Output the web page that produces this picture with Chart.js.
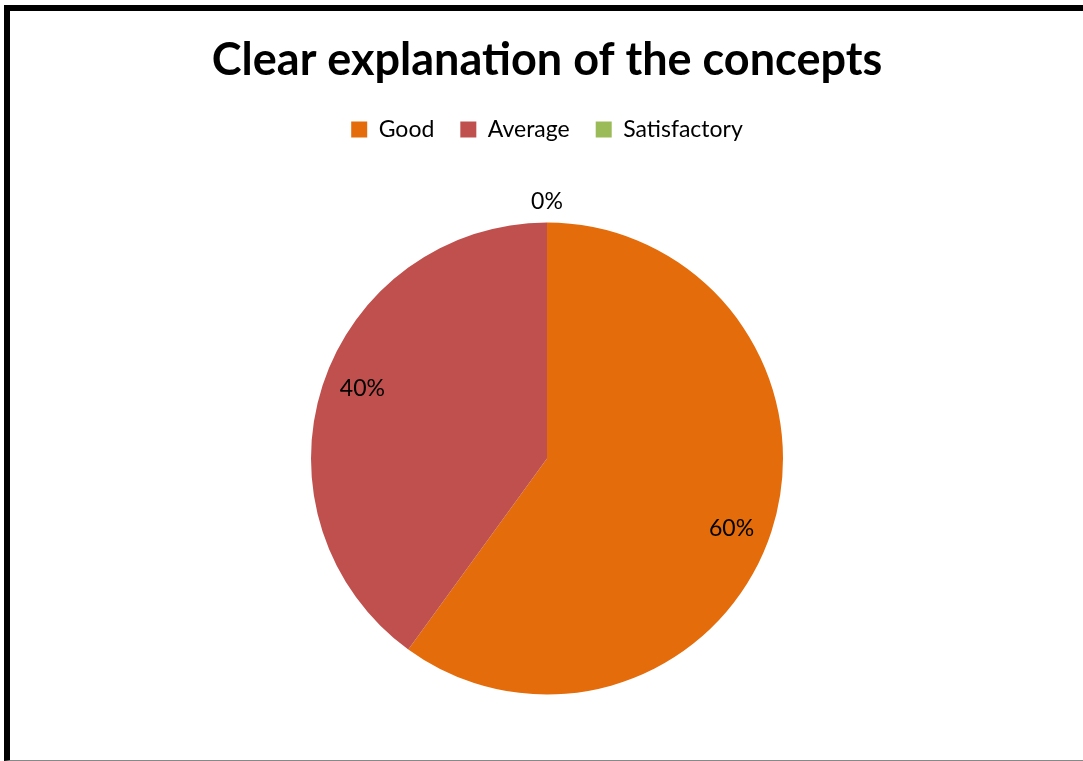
<!DOCTYPE html>
<html>
<head>
<meta charset="utf-8">
<script src="https://cdn.jsdelivr.net/npm/chart.js@4/dist/chart.umd.min.js"></script>
<style>
  html, body { margin: 0; padding: 0; background: #fff; }
  body { width: 1083px; height: 761px; position: relative; overflow: hidden; }
  #wrap { position: absolute; left: 0; top: 0; width: 1083px; height: 761px; }
  #frame {
    position: absolute; left: 4px; top: 5px; width: 1090px; height: 749px;
    border-left: 6px solid #000; border-top: 6px solid #000; border-bottom: 1px solid #888;
    pointer-events: none;
  }
</style>
</head>
<body>
<div id="wrap"><canvas id="pie" width="1083" height="761"></canvas></div>
<div id="frame"></div>
<script>
// ---------- Data ----------
const CATEGORIES = ['Good', 'Average', 'Satisfactory'];
const PERCENTS = [60, 40, 0];
const COLORS = ['#E46C0A', '#C0504D', '#9BBB59'];
const TITLE = 'Clear explanation of the concepts';

const FONT = "Lato, 'Liberation Sans', sans-serif";

// percent labels, Excel style (inside for real slices, outside for empty ones)
const pctLabels = {
    id: 'pctLabels',
    afterDatasetsDraw(chart) {
        const ctx = chart.ctx;
        const meta = chart.getDatasetMeta(0);
        ctx.save();
        ctx.fillStyle = '#000';
        ctx.font = '23px ' + FONT;
        ctx.textAlign = 'center';
        ctx.textBaseline = 'middle';
        meta.data.forEach((arc, i) => {
            let mid = (arc.startAngle + arc.endAngle) / 2;
            let r = arc.outerRadius + 21;
            if (PERCENTS[i] > 0) {
                mid += 0.05;
                r = arc.outerRadius * 0.837;
            }
            const x = arc.x + Math.cos(mid) * r;
            const y = arc.y + Math.sin(mid) * r;
            ctx.fillText(PERCENTS[i] + '%', x, y);
        });
        ctx.restore();
    }
};

// a bit more room under the legend
const legendGap = {
    id: 'legendGap',
    beforeInit(chart) {
        const fit = chart.legend.fit;
        chart.legend.fit = function () {
            fit.bind(chart.legend)();
            this.height += 10;
        };
    }
};

new Chart(document.getElementById('pie'), {
    type: 'pie',
    data: {
        labels: CATEGORIES,
        datasets: [{ data: PERCENTS, backgroundColor: COLORS, borderWidth: 0, radius: 236 }]
    },
    options: {
        responsive: false,
        animation: false,
        layout: { padding: { left: 11, right: 0, top: 0, bottom: 5 } },
        plugins: {
            title: {
                display: true, text: TITLE, color: '#000',
                font: { family: FONT, size: 45, weight: 'bold' },
                padding: { top: 33, bottom: 5 }
            },
            legend: {
                position: 'top',
                labels: {
                    color: '#000', boxWidth: 16, boxHeight: 16, padding: 26,
                    font: { family: FONT, size: 23 }
                }
            },
            tooltip: { enabled: false }
        }
    },
    plugins: [pctLabels, legendGap]
});
</script>
</body>
</html>
